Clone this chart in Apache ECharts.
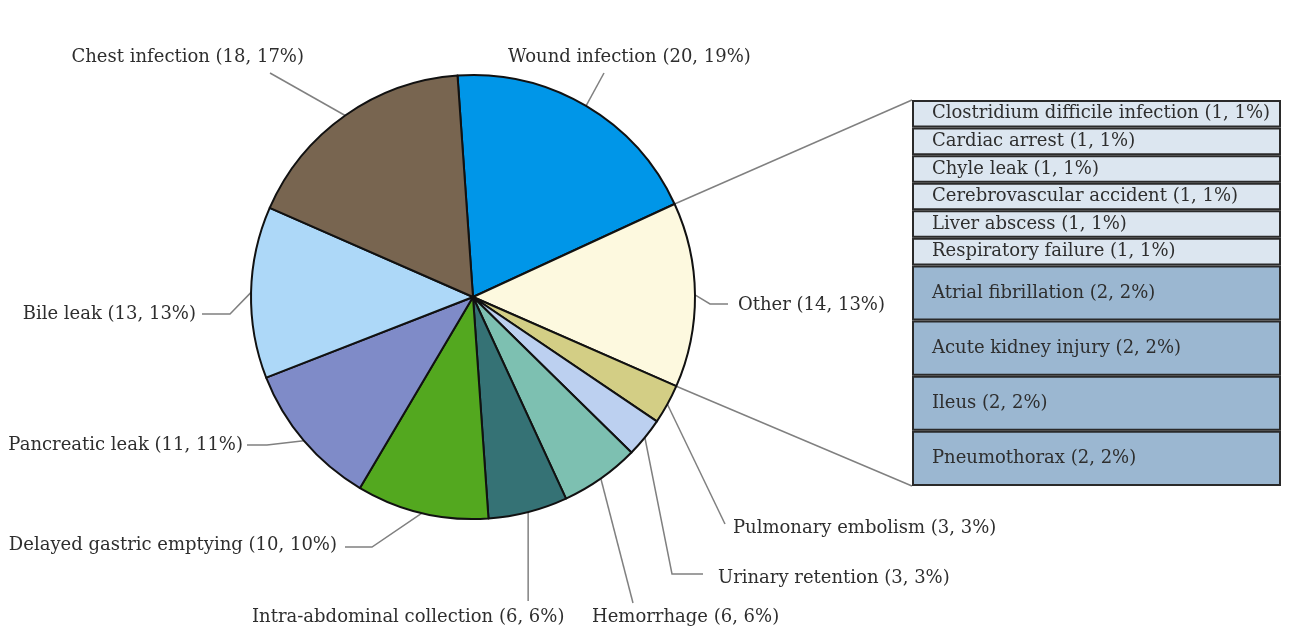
<!DOCTYPE html>
<html>
<head>
<meta charset="utf-8">
<script src="https://cdn.jsdelivr.net/npm/echarts@6/dist/echarts.min.js"></script>
<style>
html,body{margin:0;padding:0;background:#fff;}
#main{width:1291px;height:630px;}
</style>
</head>
<body>
<div id="main"></div>
<script>
// ---- data ----
const categories = ['Wound infection', 'Other', 'Pulmonary embolism', 'Urinary retention', 'Hemorrhage',
  'Intra-abdominal collection', 'Delayed gastric emptying', 'Pancreatic leak', 'Bile leak', 'Chest infection'];
const counts = [20, 14, 3, 3, 6, 6, 10, 11, 13, 18];
const otherItems = ['Clostridium difficile infection', 'Cardiac arrest', 'Chyle leak', 'Cerebrovascular accident',
  'Liver abscess', 'Respiratory failure', 'Atrial fibrillation', 'Acute kidney injury', 'Ileus', 'Pneumothorax'];
const otherCounts = [1, 1, 1, 1, 1, 1, 2, 2, 2, 2];

// ---- styles / layout ----
const pieColors = ['#0096E8', '#FDF9DF', '#D3CE85', '#BCD0F0', '#7DC0B1', '#357275', '#53A81F', '#7F8BC8', '#ADD8F8', '#786550'];
const lightRow = '#DCE6F0', darkRow = '#9BB7D1';
const FONT = 'DejaVu Serif';
const FSIZE = 18;
const TEXT = '#2e2e2e';
const LINE = '#808080';

// label text anchors and leader-line bends (layout only)
const labelSpots = [
  { x: 508, y: 57,  align: 'left',  pts: [[604, 73]] },
  { x: 738, y: 305, align: 'left',  pts: [[710, 304], [728, 304]] },
  { x: 733, y: 528, align: 'left',  pts: [[725, 524]] },
  { x: 718, y: 578, align: 'left',  pts: [[672, 574], [703, 574]] },
  { x: 592, y: 617, align: 'left',  pts: [[633, 603]] },
  { x: 252, y: 617, align: 'left',  pts: [[null, 601]] },
  { x: 337, y: 545, align: 'right', pts: [[372, 547], [345, 547]] },
  { x: 243, y: 445, align: 'right', pts: [[267, 445], [247, 445]] },
  { x: 196, y: 314, align: 'right', pts: [[230, 314], [202, 314]] },
  { x: 304, y: 57,  align: 'right', pts: [[270, 73]] }
];

const total = counts.reduce((a, b) => a + b, 0);
const pct = v => Math.round(v / total * 100) + '%';

const chart = echarts.init(document.getElementById('main'), null, { renderer: 'canvas' });

const barSeries = otherItems.map((name, i) => ({
  type: 'bar',
  name: name,
  stack: 'other',
  barWidth: '100%',
  data: [otherCounts[i]],
  itemStyle: { color: i < 6 ? lightRow : darkRow, borderColor: '#2a2a2a', borderWidth: 2 },
  label: {
    show: true,
    position: 'insideLeft',
    distance: 20,
    fontFamily: FONT,
    fontSize: FSIZE,
    color: TEXT,
    formatter: p => name + ' (' + p.value + ', ' + pct(p.value) + ')'
  },
  emphasis: { disabled: true },
  silent: true
}));

chart.setOption({
  animation: false,
  backgroundColor: '#ffffff',
  grid: { left: 912, top: 100, width: 369, height: 386 },
  xAxis: { type: 'category', data: ['Other'], show: false },
  yAxis: { type: 'value', min: 0, max: otherCounts.reduce((a, b) => a + b, 0), inverse: true, show: false },
  series: [
    {
      type: 'pie',
      center: [473, 297],
      radius: 222,
      startAngle: 94,
      clockwise: true,
      avoidLabelOverlap: false,
      silent: true,
      data: categories.map((c, i) => ({ name: c, value: counts[i] })),
      itemStyle: {
        color: p => pieColors[p.dataIndex],
        borderColor: '#111111',
        borderWidth: 2
      },
      label: {
        show: true,
        position: 'outside',
        fontFamily: FONT,
        fontSize: FSIZE,
        color: TEXT,
        formatter: p => p.name + ' (' + p.value + ', ' + pct(p.value) + ')'
      },
      labelLine: {
        show: true,
        length: 10,
        length2: 10,
        lineStyle: { color: LINE, width: 1.5 }
      },
      labelLayout: function (params) {
        const s = labelSpots[params.dataIndex];
        const start = params.labelLinePoints ? params.labelLinePoints[0] : [0, 0];
        const pts = s.pts.map(p => [p[0] == null ? start[0] : p[0], p[1]]);
        const linePts = [start, pts[0], pts[pts.length - 1]];
        return {
          x: s.x,
          y: s.y,
          align: s.align,
          verticalAlign: 'middle',
          labelLinePoints: linePts
        };
      },
      emphasis: { disabled: true }
    }
  ].concat(barSeries)
});

// connector lines from the "Other" slice to the breakdown column
(function () {
  const model = chart.getModel();
  const pieData = model.getSeriesByIndex(0).getData();
  const lay = pieData.getItemLayout(categories.indexOf('Other'));
  const rect = model.getComponent('grid').coordinateSystem.getRect();
  const pA = [lay.cx + lay.r * Math.cos(lay.startAngle), lay.cy + lay.r * Math.sin(lay.startAngle)];
  const pB = [lay.cx + lay.r * Math.cos(lay.endAngle), lay.cy + lay.r * Math.sin(lay.endAngle)];
  chart.setOption({
    graphic: [
      { type: 'line', z: 1, shape: { x1: pA[0], y1: pA[1], x2: rect.x, y2: rect.y }, style: { stroke: LINE, lineWidth: 1.5 } },
      { type: 'line', z: 1, shape: { x1: pB[0], y1: pB[1], x2: rect.x, y2: rect.y + rect.height }, style: { stroke: LINE, lineWidth: 1.5 } }
    ]
  });
})();
</script>
</body>
</html>
